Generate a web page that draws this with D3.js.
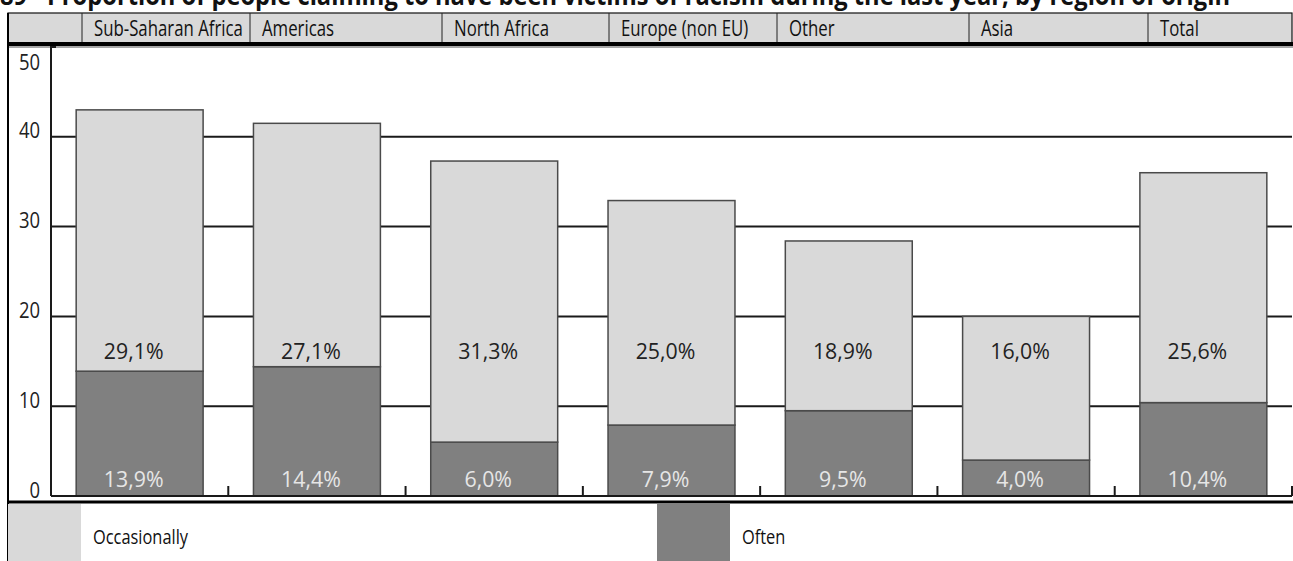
<!DOCTYPE html>
<html><head><meta charset="utf-8">
<script src="https://cdn.jsdelivr.net/npm/d3@7"></script>
<style>
body{margin:0;background:#fff}
svg{display:block}
text{font-family:"Open Sans","Noto Sans","Liberation Sans",sans-serif}
</style>
</head><body>
<svg id="chart" width="1293" height="561"></svg>
<script>
// ---- data ----
const title = "89 - Proportion of people claiming to have been victims of racism during the last year, by region of origin";
const categories = ["Sub-Saharan Africa","Americas","North Africa","Europe (non EU)","Other","Asia","Total"];
const often = [13.9,14.4,6.0,7.9,9.5,4.0,10.4];
const occasionally = [29.1,27.1,31.3,25.0,18.9,16.0,25.6];
const yTicks = [0,10,20,30,40,50];
const seriesNames = ["Occasionally","Often"];

// ---- layout / style ----
const W = 1293, H = 561;
const colLight = "#d9d9d9", colDark = "#808080";
const headerEdges = [8, 82, 250, 442, 609, 777, 969, 1148, 1292];
const fmt = v => d3.format(".1f")(v).replace(".", ",") + "%";
const SX = 0.8; // horizontal condensing of letters

const svg = d3.select("#chart");
const rows = categories.map((c,i)=>({cat:c, often:often[i], occasionally:occasionally[i]}));
const stack = d3.stack().keys(["often","occasionally"])(rows);

const x = d3.scaleBand().domain(categories).range([51, 1292]).paddingInner(0.284).paddingOuter(0.142);
const y = d3.scaleLinear().domain([0,50]).range([496, 47]);

// title (clipped at top)
svg.append("text").attr("x", 0).attr("y", 5)
  .attr("font-size", 26).attr("font-weight", "bold").attr("fill", "#111")
  .attr("textLength", 1230).attr("lengthAdjust", "spacingAndGlyphs")
  .text(title);

// header row
const hdr = svg.append("g");
hdr.append("rect").attr("x", headerEdges[0]).attr("y", 13)
  .attr("width", headerEdges[headerEdges.length-1]-headerEdges[0]).attr("height", 31)
  .attr("fill", colLight).attr("stroke", "#111").attr("stroke-width", 1.2);
hdr.selectAll("line.sep").data(headerEdges.slice(1,-1)).join("line")
  .attr("x1", d => d).attr("x2", d => d).attr("y1", 13).attr("y2", 44)
  .attr("stroke", "#222").attr("stroke-width", 1);
hdr.selectAll("text").data(categories).join("text")
  .attr("transform", (c,i) => `translate(${headerEdges[i+1] + 12},36) scale(${SX},1)`)
  .attr("font-size", 21).attr("fill", "#111").text(c => c);
svg.append("line").attr("x1", headerEdges[0]).attr("x2", W).attr("y1", 47).attr("y2", 47)
  .attr("stroke", "#888").attr("stroke-width", 1.5);
svg.append("line").attr("x1", headerEdges[0]).attr("x2", W).attr("y1", 44).attr("y2", 44)
  .attr("stroke", "#000").attr("stroke-width", 4);

// left border
svg.append("line").attr("x1", 8).attr("x2", 8).attr("y1", 13).attr("y2", H)
  .attr("stroke", "#000").attr("stroke-width", 2);

// gridlines
svg.append("g").selectAll("line").data(yTicks.filter(t => t > 0 && t < 50)).join("line")
  .attr("x1", 51).attr("x2", 1292).attr("y1", d => y(d)).attr("y2", d => y(d))
  .attr("stroke", "#1a1a1a").attr("stroke-width", 2);

// y axis
const yAxis = d3.axisLeft(y).tickValues(yTicks).tickSize(0).tickPadding(0).tickFormat(d3.format("d"));
const ya = svg.append("g").attr("transform", "translate(51,0)").call(yAxis);
ya.select(".domain").remove();
ya.selectAll("text").attr("font-size", 21).attr("fill", "#222")
  .attr("x", 0).attr("dy", 0).attr("y", 0)
  .attr("text-anchor", "end")
  .attr("transform", d => `translate(-11,${Math.max(y(d), 68) - y(d) + 1}) scale(0.88,1)`);
svg.append("path").attr("d", `M56,${y(50)}H51V${y(0)}`).attr("fill", "none")
  .attr("stroke", "#1a1a1a").attr("stroke-width", 2);

// bars
const fills = {often: colDark, occasionally: colLight};
svg.append("g").selectAll("g").data(stack).join("g")
  .attr("fill", d => fills[d.key])
  .selectAll("rect").data(d => d).join("rect")
  .attr("x", d => x(d.data.cat)).attr("width", x.bandwidth())
  .attr("y", d => y(d[1])).attr("height", d => y(d[0]) - y(d[1]))
  .attr("stroke", "#4a4a4a").attr("stroke-width", 1.5);

// baseline + x ticks
const step = x.step(), gap = step - x.bandwidth();
svg.append("line").attr("x1", 51).attr("x2", 1292).attr("y1", y(0)).attr("y2", y(0))
  .attr("stroke", "#1a1a1a").attr("stroke-width", 2);
svg.append("g").selectAll("line").data(categories).join("line")
  .attr("x1", d => x(d) + x.bandwidth() + gap/2).attr("x2", d => x(d) + x.bandwidth() + gap/2)
  .attr("y1", y(0)).attr("y2", y(0) - 10)
  .attr("stroke", "#1a1a1a").attr("stroke-width", 2);

// value labels
const lx = d => x(d.cat) + x.bandwidth()/2 - 6;
svg.append("g").selectAll("text").data(rows).join("text")
  .attr("transform", d => `translate(${lx(d)},${y(0) - 137}) scale(0.97,1)`).attr("text-anchor", "middle")
  .attr("font-size", 22).attr("fill", "#222").text(d => fmt(d.occasionally));
svg.append("g").selectAll("text").data(rows).join("text")
  .attr("transform", d => `translate(${lx(d)},${y(0) - 9}) scale(0.97,1)`).attr("text-anchor", "middle")
  .attr("font-size", 22).attr("fill", "#e6e6e6").text(d => fmt(d.often));

// legend
svg.append("line").attr("x1", 8).attr("x2", W).attr("y1", 502).attr("y2", 502)
  .attr("stroke", "#000").attr("stroke-width", 3);
const legX = [8, 657];
const lg = svg.append("g").selectAll("g").data(seriesNames).join("g")
  .attr("transform", (d,i) => `translate(${legX[i]},504)`);
lg.append("rect").attr("width", 73).attr("height", 57)
  .attr("fill", (d,i) => i === 0 ? colLight : colDark);
lg.append("text").attr("transform", `translate(85,40) scale(${SX},1)`)
  .attr("font-size", 20.5).attr("fill", "#111").text(d => d);
</script>
</body></html>
